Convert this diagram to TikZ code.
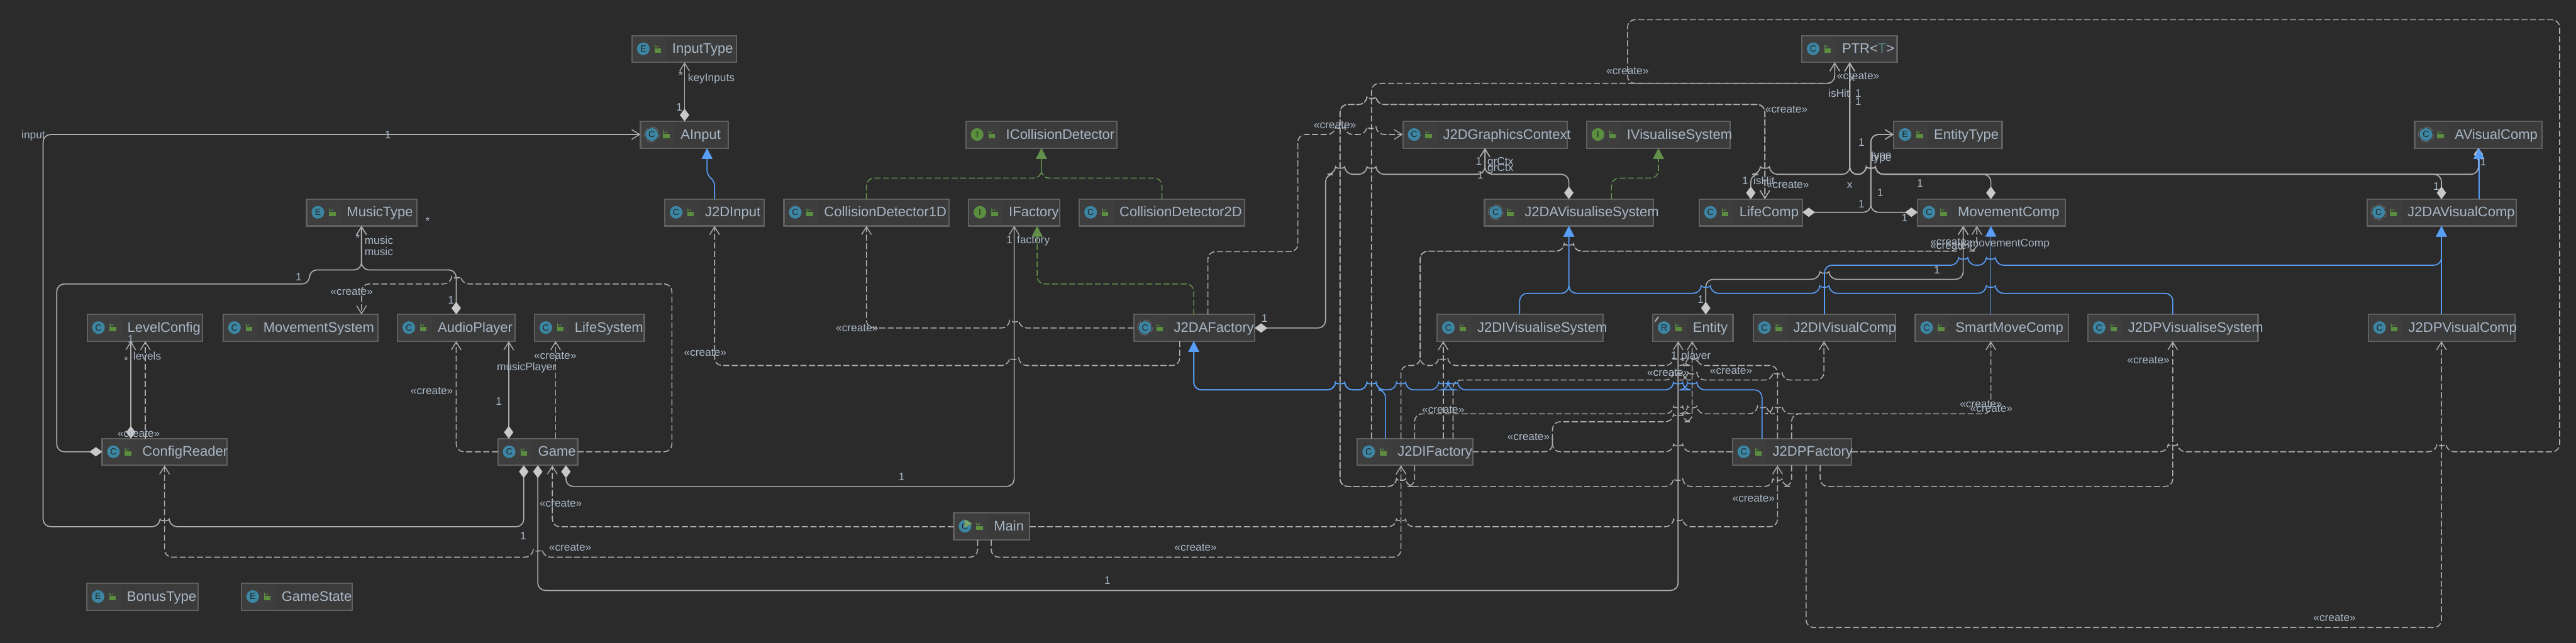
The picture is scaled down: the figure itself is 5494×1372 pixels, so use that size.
\documentclass[tikz,border=0pt]{standalone}
\usepackage{fontspec}
\setmainfont{Liberation Sans}
\usetikzlibrary{arrows.meta}
\definecolor{bgc}{HTML}{2B2B2B}
\definecolor{boxc}{HTML}{3B3B3B}
\definecolor{boxl}{HTML}{3E3E3E}
\definecolor{edgec}{HTML}{606060}
\definecolor{txtc}{HTML}{A9B7C6}
\definecolor{linec}{HTML}{ADADAD}
\definecolor{diac}{HTML}{C8C8C8}
\definecolor{bluec}{HTML}{589DF6}
\definecolor{greenc}{HTML}{62904B}
\definecolor{tealc}{HTML}{3D86A3}
\definecolor{igreen}{HTML}{5B8F3F}
\definecolor{darkc}{HTML}{232323}
\definecolor{tparam}{HTML}{4E807D}
\newcounter{lbc}
\tikzset{
  cbox/.style={draw=edgec,fill=boxc,line width=.85pt,minimum height=.57cm,outer sep=0pt,inner sep=0pt,rectangle},
  ctext/.style={text=txtc,font=\fontsize{8.4pt}{10pt}\selectfont,inner sep=0pt,text height=6.2pt,text depth=1.8pt},
  iconc/.style={circle,minimum size=.27cm,inner sep=0pt,outer sep=0pt,text=darkc,font=\fontsize{5.4pt}{6pt}\selectfont},
  lab/.style={text=txtc,font=\fontsize{6.6pt}{7pt}\selectfont,inner sep=0pt,text height=4.8pt,text depth=1.3pt},
  conn/.style={rounded corners=.16cm,line cap=butt},
  assoc/.style={conn,draw=linec,line width=.65pt},
  dep/.style={conn,draw=linec,line width=.6pt,dash pattern=on 3.7pt off 1.5pt},
  gen/.style={conn,draw=bluec,line width=.65pt},
  impl/.style={conn,draw=greenc,line width=.6pt,dash pattern=on 3.7pt off 1.5pt},
  ropen/.style={-{Straight Barb[length=1.7mm,width=2.1mm,line width=.55pt,color=linec]}},
  dopen/.style={{Diamond[length=2.7mm,width=2mm,fill=diac,color=diac]}-{Straight Barb[length=1.7mm,width=2.1mm,line width=.55pt,color=linec]}},
  tblue/.style={-{Triangle[length=2.3mm,width=2.3mm,fill=bluec,color=bluec]}},
  tgreen/.style={-{Triangle[length=2.3mm,width=2.3mm,fill=greenc,color=greenc]}},
}
\newcommand\hp[2]{-- (#1-11,#2) .. controls (#1-10,#2-12) and (#1+10,#2-12) .. (#1+11,#2)}
\newcommand\hn[2]{-- (#1+11,#2) .. controls (#1+10,#2-12) and (#1-10,#2-12) .. (#1-11,#2)}
% name, x1, y1, x2, letter, icon colour, text
\newcommand\cls[7]{%
  \node[cbox,anchor=north west,minimum width=(#4-#2)*0.01cm] (#1) at (#2,#3) {};
  \fill[boxl] (#2+3,#3+3) rectangle (#2+73,#3+54);
  \node[iconc,fill=#6] (#1-i) at (#2+24,#3+28) {#5};
  \fill[igreen] (#2+48,#3+27) rectangle (#2+62,#3+36);
  \draw[igreen,line width=.35pt] (#2+49,#3+27) -- (#2+49,#3+21) arc[start angle=180,end angle=0,x radius=3.5,y radius=3.5];
  \node[ctext,anchor=west] (#1-t) at (#2+85,#3+30) {#7};
}
\newcommand\absrim[2]{\draw[edgec,line width=.5pt,dash pattern=on 6pt off 1.8pt,dash phase=3pt] (#1+24,#2+28) circle[radius=16];}
\newcommand\lb[3]{\stepcounter{lbc}\node[lab] (lb\thelbc) at (#1,#2) {#3};}
\begin{document}
\begin{tikzpicture}[x=0.01cm,y=-0.01cm]
\useasboundingbox (0,0) rectangle (5494,1372);
\fill[bgc] (0,0) rectangle (5494,1372);
% --- classes ---
\cls{InputType}{1348}{76}{1571}{E}{tealc}{InputType}
\cls{AInput}{1366}{259}{1553}{C}{tealc}{AInput}
\cls{MusicType}{654}{425}{889}{E}{tealc}{MusicType}
\cls{LevelConfig}{186}{671}{432}{C}{tealc}{LevelConfig}
\cls{MovementSystem}{476}{671}{806}{C}{tealc}{MovementSystem}
\cls{AudioPlayer}{848}{671}{1098}{C}{tealc}{AudioPlayer}
\cls{LifeSystem}{1140}{671}{1374}{C}{tealc}{LifeSystem}
\cls{ConfigReader}{218}{936}{484}{C}{tealc}{ConfigReader}
\cls{Game}{1062}{936}{1232}{C}{tealc}{Game}
\cls{BonusType}{185}{1245}{423}{E}{tealc}{BonusType}
\cls{GameState}{515}{1245}{751}{E}{tealc}{GameState}
\cls{ICD}{2060}{259}{2382}{I}{igreen}{ICollisionDetector}
\cls{JInput}{1418}{425}{1630}{C}{tealc}{J2DInput}
\cls{CDa}{1672}{425}{2024}{C}{tealc}{CollisionDetector1D}
\cls{IFactory}{2066}{425}{2260}{I}{igreen}{IFactory}
\cls{CDb}{2302}{425}{2654}{C}{tealc}{CollisionDetector2D}
\cls{JAFactory}{2418}{671}{2676}{C}{tealc}{J2DAFactory}
\cls{Main}{2034}{1095}{2196}{C}{tealc}{Main}
\fill[igreen!80!white] (2057,1108) -- (2073,1117) -- (2057,1126) -- cycle;
\cls{PTR}{3843}{76}{4046}{C}{tealc}{PTR<\textcolor{tparam}{T}>}
\cls{JGC}{2992}{259}{3342}{C}{tealc}{J2DGraphicsContext}
\cls{IVS}{3384}{259}{3690}{I}{igreen}{IVisualiseSystem}
\cls{EntityType}{4039}{259}{4270}{E}{tealc}{EntityType}
\cls{JAVS}{3166}{425}{3526}{C}{tealc}{J2DAVisualiseSystem}
\cls{LifeComp}{3624}{425}{3844}{C}{tealc}{LifeComp}
\cls{MC}{4090}{425}{4405}{C}{tealc}{MovementComp}
\cls{JIVS}{3065}{671}{3419}{C}{tealc}{J2DIVisualiseSystem}
\cls{Entity}{3525}{671}{3696}{R}{tealc}{Entity}
\draw[linec,line width=.8pt] (3530,686) -- (3537,676);
\cls{JIVC}{3739}{671}{4043}{C}{tealc}{J2DIVisualComp}
\cls{Smart}{4085}{671}{4411}{C}{tealc}{SmartMoveComp}
\cls{JPVS}{4453}{671}{4816}{C}{tealc}{J2DPVisualiseSystem}
\cls{JPVC}{5051}{671}{5364}{C}{tealc}{J2DPVisualComp}
\cls{JAVC}{5049}{425}{5367}{C}{tealc}{J2DAVisualComp}
\cls{AVC}{5150}{259}{5421}{C}{tealc}{AVisualComp}
\cls{JIF}{2895}{936}{3141}{C}{tealc}{J2DIFactory}
\cls{JPF}{3695}{936}{3949}{C}{tealc}{J2DPFactory}
\absrim{1366}{259}\absrim{2418}{671}\absrim{3166}{425}\absrim{5049}{425}\absrim{5150}{259}
% --- left part ---
\draw[assoc,dopen] (1460,0 |- AInput.north) -- (1460,0 |- InputType.south);
\draw[assoc,dopen] (1117,0 |- Game.south) -- (1117,1124) \hn{351}{1124} -- (92,1124) -- (92,287) -- (AInput.west |- 0,287);
\draw[dep,ropen] (2085,0 |- Main.south) -- (2085,1189) \hn{1147}{1189} -- (351,1189) -- (351,0 |- ConfigReader.south);
\draw[dep,ropen] (Main.west |- 0,1124) -- (1178,1124) -- (1178,0 |- Game.south);
\draw[assoc,dopen] (1147,0 |- Game.south) -- (1147,1260) -- (3579,1260) -- (3579,0 |- Entity.south);
\draw[assoc,dopen] (1207,0 |- Game.south) -- (1207,1038) -- (2163,1038) -- (2163,0 |- IFactory.south);
\draw[dep,ropen] (Game.west |- 0,964) -- (973,964) -- (973,0 |- AudioPlayer.south);
\draw[assoc,dopen] (1085,0 |- Game.north) -- (1085,0 |- AudioPlayer.south);
\draw[dep,ropen] (1185,0 |- Game.north) -- (1185,0 |- LifeSystem.south);
\draw[dep,ropen] (Game.east |- 0,964) -- (1433,964) -- (1433,606) \hn{973}{606} -- (771,606) -- (771,0 |- MovementSystem.north);
\draw[assoc,dopen] (973,0 |- AudioPlayer.north) -- (973,576) -- (771,576) -- (771,0 |- MusicType.south);
\draw[assoc,dopen] (ConfigReader.west |- 0,964) -- (121,964) -- (121,606) -- (660,606) -- (660,576) -- (771,576) -- (771,0 |- MusicType.south);
\draw[assoc,dopen] (279,0 |- ConfigReader.north) -- (279,0 |- LevelConfig.south);
\draw[dep,ropen] (310,0 |- ConfigReader.north) -- (310,0 |- LevelConfig.south);
% --- middle part ---
\draw[gen,tblue,rounded corners=.1cm] (1524,0 |- JInput.north) -- (1524,386) -- (1508,374) -- (1508,0 |- AInput.south);
\draw[dep,ropen] (2516,0 |- JAFactory.south) -- (2516,780) \hn{2163}{780} -- (1524,780) -- (1524,0 |- JInput.south);
\draw[dep,ropen] (JAFactory.west |- 0,700) \hn{2163}{700} -- (1848,700) -- (1848,0 |- CDa.south);
\draw[impl,tgreen] (1848,0 |- CDa.north) -- (1848,380) -- (2221,380) -- (2221,0 |- ICD.south);
\draw[impl,tgreen] (2478,0 |- CDb.north) -- (2478,380) -- (2221,380) -- (2221,0 |- ICD.south);
\draw[impl,tgreen] (2546,0 |- JAFactory.north) -- (2546,606) -- (2212,606) -- (2212,0 |- IFactory.south);
\draw[dep,ropen] (2576,0 |- JAFactory.north) -- (2576,537) -- (2768,537) -- (2768,287) \hp{2858}{287} \hp{2925}{287} -- (JGC.west |- 0,287);
\draw[assoc,dopen] (JAFactory.east |- 0,700) -- (2827,700) -- (2827,372) \hp{2858}{372} \hp{2925}{372} -- (3167,372) -- (3167,0 |- JGC.south);
\draw[assoc,dopen] (3346,0 |- JAVS.north) -- (3346,372) -- (3167,372) -- (3167,0 |- JGC.south);
\draw[impl,tgreen] (3437,0 |- JAVS.north) -- (3437,380) -- (3537,380) -- (3537,0 |- IVS.south);
% --- to PTR ---
\draw[assoc,dopen] (3734,0 |- LifeComp.north) -- (3734,372) \hp{3764}{372} -- (3945,372) -- (3945,0 |- PTR.south);
\draw[assoc,dopen] (4246,0 |- MC.north) -- (4246,372) \hn{3990}{372} -- (3945,372) -- (3945,0 |- PTR.south);
\draw[assoc,dopen] (5207,0 |- JAVC.north) -- (5207,372) \hn{3990}{372} -- (3945,372) -- (3945,0 |- PTR.south);
\draw[assoc,dopen] (5286,0 |- AVC.south) -- (5286,372) \hn{3990}{372} -- (3945,372) -- (3945,0 |- PTR.south);
\draw[assoc,dopen] (LifeComp.east |- 0,453) -- (3990,453) -- (3990,287) -- (EntityType.west |- 0,287);
\draw[assoc,dopen] (MC.west |- 0,453) -- (3990,453) -- (3990,287) -- (EntityType.west |- 0,287);
% --- creations from factories ---
\draw[dep,ropen] (3017,0 |- JIF.south) -- (3017,1038) \hn{2988}{1038} -- (2858,1038) -- (2858,223) \hp{2925}{223} -- (3764,223) -- (3764,0 |- LifeComp.north);
\draw[dep,ropen] (3821,0 |- JPF.south) -- (3821,1038) \hn{3791}{1038} \hn{3579}{1038} \hn{2988}{1038} -- (2858,1038) -- (2858,223) \hp{2925}{223} -- (3764,223) -- (3764,0 |- LifeComp.north);
\draw[dep,ropen] (Main.east |- 0,1124) \hp{2988}{1124} \hp{3579}{1124} -- (3791,1124) -- (3791,0 |- JPF.south);
\draw[dep,ropen] (2114,0 |- Main.south) -- (2114,1189) -- (2988,1189) -- (2988,0 |- JIF.south);
\draw[dep,ropen] (2925,0 |- JIF.north) -- (2925,178) -- (3913,178) -- (3913,0 |- PTR.south);
\draw[dep,ropen] (2988,0 |- JIF.north) -- (2988,780) -- (3029,780) -- (3029,536) \hp{3346}{536} \hp{4187}{536} -- (4216,536) -- (4216,0 |- MC.south);
\draw[dep,ropen] (3791,0 |- JPF.north) -- (3791,780) \hn{3609}{780} \hn{3579}{780} \hn{3078}{780} -- (3029,780) -- (3029,536) \hp{3346}{536} -- (4187,536) -- (4187,0 |- MC.south);
\draw[dep,ropen] (3017,0 |- JIF.north) -- (3017,883) \hp{3579}{883} \hp{3609}{883} \hp{3758}{883} \hp{3791}{883} -- (4246,883) -- (4246,0 |- Smart.south);
\draw[dep] (3821,0 |- JPF.north) -- (3821,883) -- (3860,883);
\draw[dep,ropen] (3078,0 |- JIF.north) -- (3078,0 |- JIVS.south);
\draw[dep,ropen] (3099,0 |- JIF.north) -- (3099,811) \hp{3579}{811} \hp{3609}{811} \hp{3791}{811} -- (3890,811) -- (3890,0 |- JIVC.south);
\draw[dep] (JIF.east |- 0,964) -- (3311,964) -- (3311,935);
\draw[dep,ropen] (JPF.west |- 0,964) \hn{3579}{964} -- (3311,964) -- (3311,900) \hp{3579}{900} -- (3609,900) -- (3609,0 |- Entity.south);
\draw[assoc,dopen] (3638,0 |- Entity.north) -- (3638,596) \hp{3891}{596} -- (4187,596) -- (4187,0 |- MC.south);
\draw[dep,ropen] (3852,0 |- JPF.south) -- (3852,1339) -- (5207,1339) -- (5207,0 |- JPVC.south);
\draw[dep,ropen] (3882,0 |- JPF.south) -- (3882,1038) -- (4634,1038) -- (4634,0 |- JPVS.south);
\draw[dep,ropen] (JPF.east |- 0,964) \hp{4634}{964} \hp{5207}{964} -- (5459,964) -- (5459,42) -- (3471,42) -- (3471,178) -- (3913,178) -- (3913,0 |- PTR.south);
% --- inheritance ---
\draw[gen,tblue] (2955,0 |- JIF.north) -- (2955,832) \hn{2925}{832} \hn{2858}{832} -- (2546,832) -- (2546,0 |- JAFactory.south);
\draw[gen,tblue] (3758,0 |- JPF.north) -- (3758,832) \hn{3609}{832} \hn{3579}{832} \hn{3099}{832} \hn{3078}{832} \hn{2988}{832} \hn{2925}{832} \hn{2858}{832} -- (2546,832) -- (2546,0 |- JAFactory.south);
\draw[gen,tblue] (3241,0 |- JIVS.north) -- (3241,626) -- (3346,626) -- (3346,0 |- JAVS.south);
\draw[gen,tblue] (4634,0 |- JPVS.north) -- (4634,626) \hn{4246}{626} \hn{3891}{626} \hn{3638}{626} -- (3346,626) -- (3346,0 |- JAVS.south);
\draw[gen,tblue] (4246,0 |- Smart.north) -- (4246,0 |- MC.south);
\draw[gen,tblue] (3891,0 |- JIVC.north) -- (3891,566) \hp{4187}{566} \hp{4246}{566} -- (5207,566) -- (5207,0 |- JAVC.south);
\draw[gen,tblue] (5207,0 |- JPVC.north) -- (5207,0 |- JAVC.south);
\draw[gen,tblue] (5287,0 |- JAVC.north) -- (5287,0 |- AVC.south);
% --- labels ---
\lb{71}{289}{input}\lb{827}{289}{1}\lb{912}{473}{*}\lb{763}{509}{*}\lb{808}{515}{music}\lb{808}{539}{music}
\lb{637}{593}{1}\lb{750}{624}{«create»}\lb{962}{642}{1}\lb{279}{725}{1}\lb{314}{762}{levels}\lb{269}{771}{*}
\lb{296}{927}{«create»}\lb{921}{836}{«create»}\lb{1123}{784}{musicPlayer}\lb{1064}{858}{1}\lb{1184}{761}{«create»}
\lb{1116}{1146}{1}\lb{1196}{1075}{«create»}\lb{1216}{1170}{«create»}
\lb{1452}{162}{*}\lb{1517}{167}{keyInputs}\lb{1449}{230}{1}\lb{2153}{514}{1}\lb{2204}{514}{factory}
\lb{1828}{701}{«create»}\lb{1504}{754}{«create»}\lb{1923}{1019}{1}\lb{2550}{1170}{«create»}\lb{2362}{1241}{1}\lb{2697}{681}{1}
\lb{2847}{268}{«create»}\lb{3471}{153}{«create»}\lb{3963}{163}{«create»}\lb{3950}{168}{x}\lb{3922}{201}{isHit}\lb{3963}{201}{1}\lb{3963}{219}{1}
\lb{3810}{234}{«create»}\lb{3154}{346}{1}\lb{3200}{346}{grCtx}\lb{3200}{360}{grCtx}\lb{3157}{375}{1}
\lb{3722}{388}{1}\lb{3762}{388}{isHit}\lb{3813}{396}{«create»}\lb{3945}{395}{x}\lb{3970}{306}{1}\lb{4012}{332}{type}\lb{4012}{338}{type}
\lb{4010}{413}{1}\lb{3970}{437}{1}\lb{4062}{466}{1}\lb{4095}{393}{1}
\lb{4162}{518}{«create»}\lb{4162}{525}{«create»}\lb{4286}{520}{movementComp}\lb{4131}{578}{1}\lb{3627}{641}{1}
\lb{5296}{347}{1}\lb{5196}{400}{1}\lb{3570}{761}{1}\lb{3617}{761}{player}\lb{3558}{796}{«create»}\lb{3692}{792}{«create»}
\lb{3078}{876}{«create»}\lb{3260}{934}{«create»}\lb{3740}{1065}{«create»}\lb{4225}{863}{«create»}\lb{4247}{873}{«create»}
\lb{4582}{770}{«create»}\lb{4979}{1320}{«create»}
\end{tikzpicture}
\end{document}
